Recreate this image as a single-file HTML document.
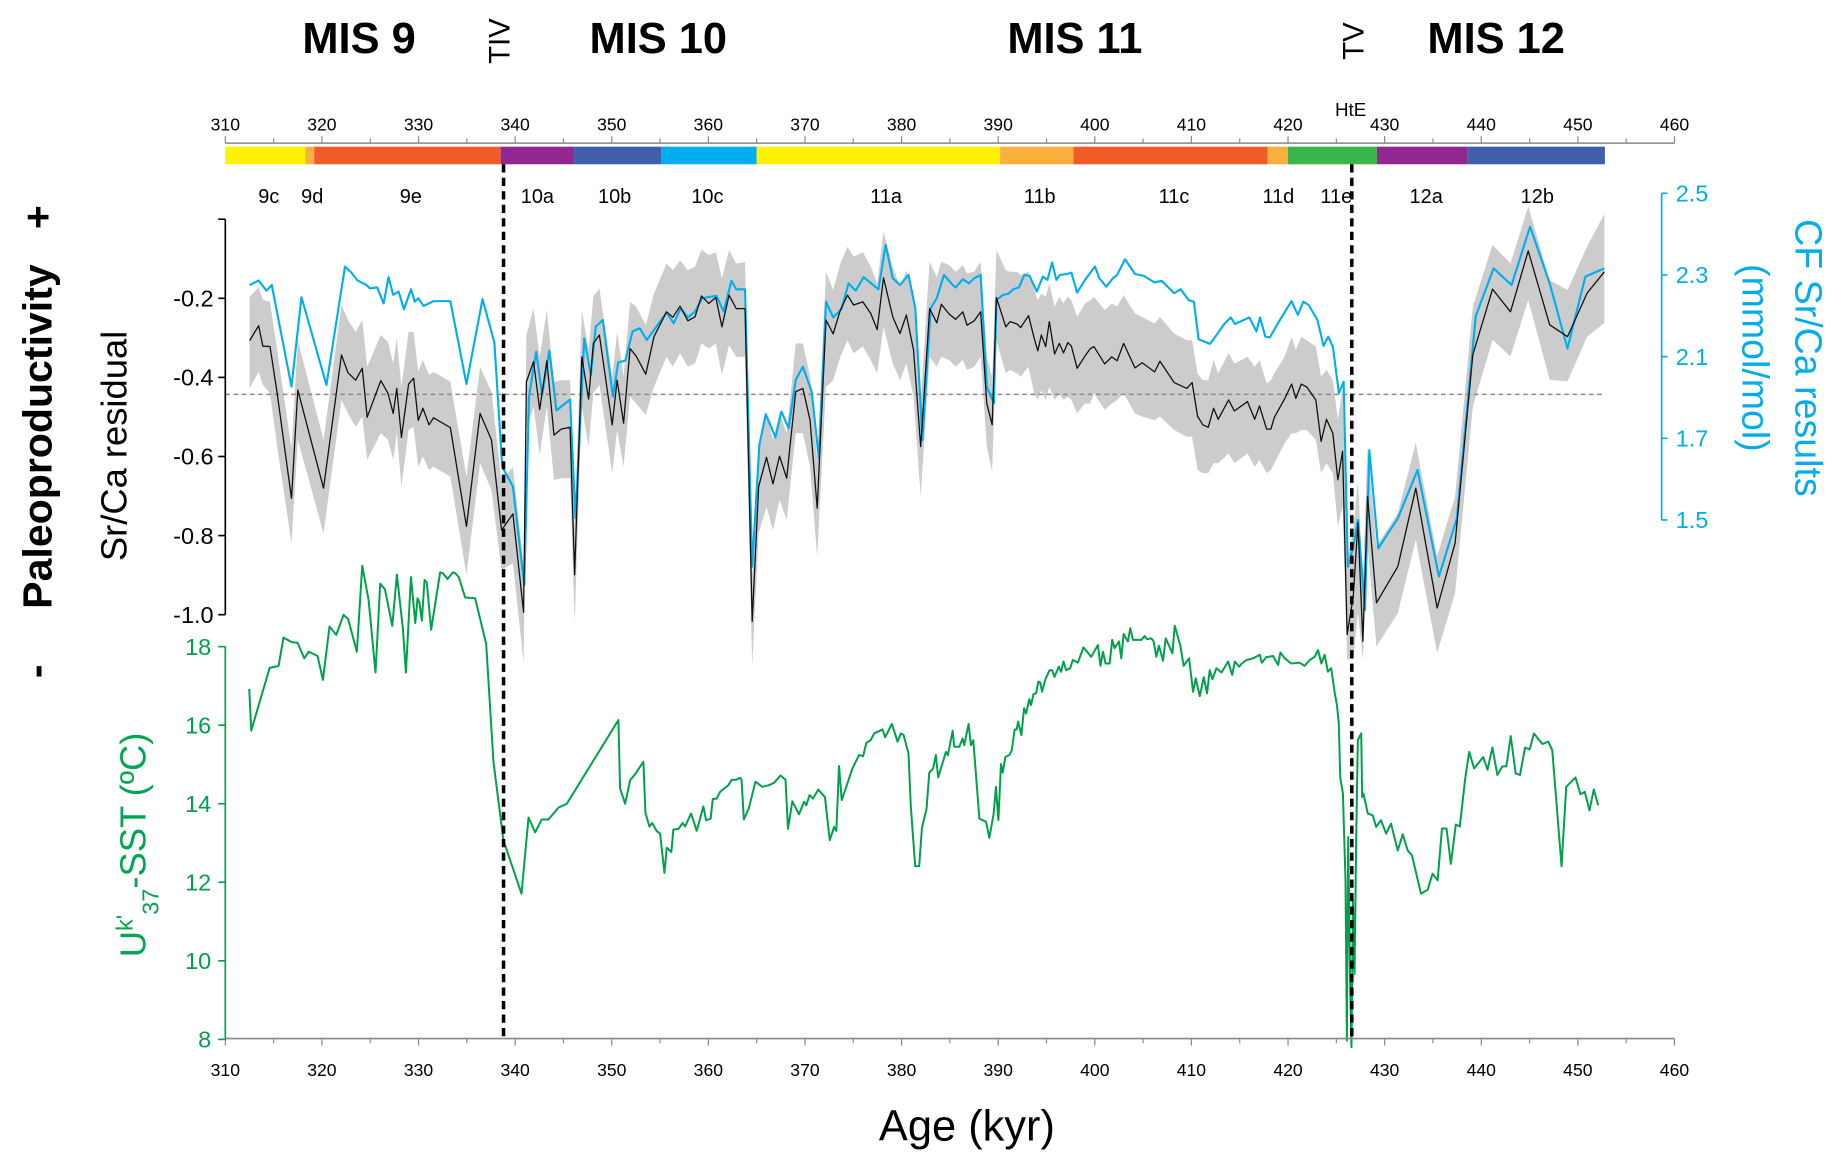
<!DOCTYPE html>
<html><head><meta charset="utf-8">
<style>
html,body{margin:0;padding:0;background:#fff;}
svg{display:block;font-family:"Liberation Sans",Arial,sans-serif;}
</style></head>
<body>
<svg id="chart" width="1840" height="1166" viewBox="0 0 1568 993.6" preserveAspectRatio="none" xmlns="http://www.w3.org/2000/svg">
<g id="layer-bg"></g>
<g id="layer-band"></g>
<g id="layer-lines"></g>
<g id="layer-axes"></g>
<g id="layer-text">
  <text x="306" y="45" font-size="37" font-weight="bold" text-anchor="middle">MIS 9</text>
  <text x="561" y="45" font-size="37" font-weight="bold" text-anchor="middle">MIS 10</text>
  <text x="916" y="45" font-size="37" font-weight="bold" text-anchor="middle">MIS 11</text>
  <text x="1275" y="45" font-size="37" font-weight="bold" text-anchor="middle">MIS 12</text>
  <text transform="translate(434,35) rotate(-90)" font-size="25" text-anchor="middle">TIV</text>
  <text transform="translate(1162,35) rotate(-90)" font-size="25" text-anchor="middle">TV</text>
  <text x="1151" y="99" font-size="16" text-anchor="middle">HtE</text>
  <text transform="translate(108,380) rotate(-90)" font-size="31" text-anchor="middle">Sr/Ca residual</text>
  <text transform="translate(124,720) rotate(-90)" font-size="31" fill="#00A651" text-anchor="middle">U<tspan font-size="20" dy="-11">k'</tspan><tspan font-size="20" dy="22">37</tspan><tspan dy="-11">-SST (ºC)</tspan></text>
  <text transform="translate(44,372) rotate(-90)" font-size="35" font-weight="bold" text-anchor="middle">Paleoproductivity</text>
  <text transform="translate(44,185) rotate(-90)" font-size="35" font-weight="bold" text-anchor="middle">+</text>
  <text transform="translate(42,572) rotate(-90)" font-size="35" font-weight="bold" text-anchor="middle">-</text>
  <text transform="translate(1530,305) rotate(90)" font-size="32" fill="#00AEEF" text-anchor="middle">CF Sr/Ca results</text>
  <text transform="translate(1485,305) rotate(90)" font-size="32" fill="#00AEEF" text-anchor="middle">(mmol/mol)</text>
  <text x="824" y="972" font-size="37" text-anchor="middle">Age (kyr)</text>
</g>
</svg>
<script>
// ---------- data ----------
const srAges = [312.52,313.45,313.89,314.63,315.37,316.85,317.51,320.17,322.02,322.69,323.50,324.17,324.69,326.09,326.83,327.38,327.75,328.23,328.97,329.49,329.97,330.45,331.08,331.56,333.30,334.96,336.37,337.55,338.59,339.77,340.88,341.17,341.91,342.54,343.28,344.02,344.76,345.68,346.16,346.90,347.61,348.09,348.72,350.05,350.56,351.23,351.89,352.52,353.52,354.37,355.67,356.33,357.07,357.88,358.62,359.29,360.03,360.77,361.40,362.14,362.88,363.80,364.54,365.21,366.02,366.69,367.37,368.11,369.04,369.78,370.52,371.26,372.18,372.92,373.66,374.40,375.03,375.99,376.80,377.47,378.13,379.09,379.83,380.50,381.24,381.98,382.90,383.64,384.12,384.93,385.60,386.34,386.78,387.52,388.19,388.82,389.37,389.81,390.78,391.22,391.96,392.33,393.14,393.73,394.10,394.47,394.92,395.29,395.84,396.32,396.76,397.21,397.58,398.17,398.98,399.54,399.91,401.02,401.75,402.31,402.98,404.16,404.90,406.19,406.75,408.22,409.52,410.07,410.63,411.18,411.74,412.29,412.77,413.85,414.44,415.81,416.55,417.04,417.78,418.22,418.59,419.63,420.37,420.81,421.37,421.93,422.87,423.42,423.98,424.64,425.16,425.64,426.12,426.75,427.23,427.75,428.23,429.15,431.37,433.22,435.44,437.29,439.13,441.17,443.02,444.86,447.08,448.93,450.96,452.74];
const srResidual = [-0.307,-0.269,-0.321,-0.322,-0.440,-0.706,-0.432,-0.680,-0.343,-0.388,-0.407,-0.377,-0.501,-0.408,-0.440,-0.491,-0.428,-0.552,-0.417,-0.402,-0.509,-0.478,-0.520,-0.502,-0.527,-0.777,-0.491,-0.558,-0.786,-0.745,-0.994,-0.411,-0.360,-0.481,-0.358,-0.546,-0.531,-0.526,-0.899,-0.348,-0.455,-0.314,-0.293,-0.520,-0.407,-0.516,-0.327,-0.346,-0.392,-0.297,-0.234,-0.248,-0.220,-0.257,-0.247,-0.194,-0.213,-0.198,-0.272,-0.192,-0.226,-0.226,-1.017,-0.676,-0.602,-0.669,-0.599,-0.655,-0.436,-0.428,-0.508,-0.731,-0.255,-0.290,-0.230,-0.192,-0.217,-0.209,-0.238,-0.279,-0.148,-0.247,-0.289,-0.242,-0.331,-0.575,-0.226,-0.262,-0.215,-0.240,-0.253,-0.234,-0.268,-0.257,-0.234,-0.466,-0.520,-0.198,-0.272,-0.259,-0.265,-0.274,-0.244,-0.301,-0.333,-0.293,-0.322,-0.259,-0.341,-0.314,-0.338,-0.312,-0.321,-0.377,-0.346,-0.327,-0.322,-0.366,-0.348,-0.358,-0.314,-0.376,-0.363,-0.386,-0.359,-0.413,-0.428,-0.413,-0.498,-0.520,-0.526,-0.478,-0.506,-0.457,-0.485,-0.461,-0.506,-0.472,-0.531,-0.531,-0.501,-0.455,-0.417,-0.453,-0.417,-0.424,-0.457,-0.562,-0.506,-0.541,-0.659,-0.587,-1.050,-0.954,-0.768,-1.067,-0.701,-0.970,-0.878,-0.680,-0.983,-0.819,-0.343,-0.177,-0.234,-0.080,-0.267,-0.297,-0.187,-0.133];
const srBandHi = [-0.196,-0.172,-0.204,-0.209,-0.331,-0.579,-0.306,-0.558,-0.217,-0.255,-0.285,-0.255,-0.373,-0.293,-0.310,-0.365,-0.301,-0.424,-0.285,-0.285,-0.386,-0.356,-0.394,-0.386,-0.411,-0.651,-0.373,-0.436,-0.663,-0.626,-0.878,-0.293,-0.226,-0.348,-0.230,-0.411,-0.407,-0.407,-0.781,-0.230,-0.331,-0.196,-0.175,-0.398,-0.285,-0.398,-0.209,-0.221,-0.268,-0.188,-0.112,-0.129,-0.104,-0.129,-0.120,-0.077,-0.091,-0.083,-0.150,-0.078,-0.112,-0.108,-0.903,-0.567,-0.491,-0.558,-0.491,-0.541,-0.314,-0.314,-0.398,-0.609,-0.133,-0.179,-0.112,-0.070,-0.095,-0.083,-0.120,-0.163,-0.032,-0.120,-0.171,-0.129,-0.205,-0.457,-0.108,-0.146,-0.108,-0.116,-0.133,-0.116,-0.137,-0.133,-0.108,-0.348,-0.398,-0.078,-0.129,-0.133,-0.133,-0.141,-0.133,-0.179,-0.205,-0.188,-0.196,-0.163,-0.221,-0.196,-0.213,-0.196,-0.205,-0.247,-0.213,-0.205,-0.196,-0.230,-0.213,-0.221,-0.192,-0.238,-0.247,-0.264,-0.247,-0.289,-0.306,-0.306,-0.390,-0.407,-0.407,-0.356,-0.390,-0.339,-0.365,-0.348,-0.373,-0.356,-0.415,-0.407,-0.390,-0.348,-0.297,-0.331,-0.297,-0.306,-0.322,-0.398,-0.381,-0.406,-0.507,-0.431,-0.861,-0.785,-0.659,-0.911,-0.575,-0.827,-0.743,-0.566,-0.852,-0.701,-0.221,-0.065,-0.112,0.032,-0.154,-0.179,-0.069,0.013];
const srBandLo = [-0.428,-0.386,-0.419,-0.440,-0.575,-0.819,-0.558,-0.794,-0.457,-0.491,-0.525,-0.499,-0.609,-0.541,-0.558,-0.609,-0.541,-0.676,-0.533,-0.525,-0.626,-0.600,-0.634,-0.626,-0.651,-0.899,-0.617,-0.685,-0.887,-0.870,-1.122,-0.533,-0.474,-0.596,-0.474,-0.659,-0.655,-0.655,-1.021,-0.474,-0.575,-0.440,-0.419,-0.642,-0.533,-0.626,-0.449,-0.466,-0.495,-0.424,-0.348,-0.373,-0.339,-0.373,-0.365,-0.314,-0.327,-0.314,-0.394,-0.318,-0.348,-0.348,-1.131,-0.794,-0.727,-0.786,-0.710,-0.760,-0.541,-0.541,-0.626,-0.853,-0.424,-0.407,-0.348,-0.306,-0.339,-0.322,-0.356,-0.390,-0.272,-0.365,-0.407,-0.365,-0.449,-0.701,-0.348,-0.373,-0.348,-0.356,-0.373,-0.356,-0.381,-0.373,-0.348,-0.575,-0.638,-0.306,-0.390,-0.381,-0.390,-0.398,-0.373,-0.440,-0.457,-0.432,-0.457,-0.424,-0.457,-0.440,-0.457,-0.449,-0.457,-0.491,-0.466,-0.466,-0.440,-0.482,-0.466,-0.457,-0.440,-0.491,-0.499,-0.508,-0.499,-0.533,-0.550,-0.550,-0.634,-0.642,-0.642,-0.617,-0.617,-0.592,-0.617,-0.592,-0.626,-0.609,-0.642,-0.634,-0.617,-0.567,-0.541,-0.541,-0.533,-0.533,-0.558,-0.642,-0.617,-0.642,-0.777,-0.726,-1.113,-1.113,-0.996,-1.113,-0.827,-1.080,-0.996,-0.810,-1.097,-0.945,-0.474,-0.305,-0.347,-0.204,-0.406,-0.410,-0.297,-0.263];

const cfAges = [312.52,313.45,314.26,314.81,316.85,317.88,320.47,322.39,323.06,323.69,324.61,324.98,325.72,326.39,326.90,327.38,327.94,328.49,329.23,329.60,329.97,330.53,331.56,333.30,334.96,336.63,337.85,338.66,339.77,340.95,341.43,342.17,342.80,343.54,344.28,345.68,346.24,347.16,347.83,348.35,349.08,350.12,350.67,351.41,352.15,352.89,353.63,355.67,356.41,357.14,357.88,358.62,359.36,360.84,361.58,362.39,362.88,363.80,364.54,365.28,365.94,366.94,367.56,368.30,369.04,369.78,370.70,371.44,372.18,372.92,373.77,374.51,375.25,376.06,376.87,377.61,378.35,379.09,379.83,380.72,381.42,382.16,383.01,383.64,384.38,385.30,385.60,386.34,386.97,387.52,388.19,388.82,389.56,389.81,390.48,391.03,391.59,392.14,392.70,393.25,393.99,394.62,395.10,395.58,396.02,396.39,397.13,397.58,398.17,398.98,400.02,400.46,401.20,401.87,402.31,403.12,404.16,405.08,406.19,406.93,408.22,408.89,409.70,410.26,410.74,411.92,412.48,413.40,414.07,414.51,415.99,416.73,417.10,417.65,418.13,418.95,420.35,421.02,421.57,422.13,423.05,423.68,424.16,424.64,425.27,425.75,426.19,426.75,427.23,427.97,428.41,429.34,431.37,433.40,435.62,437.47,439.43,441.28,443.13,445.05,447.08,448.93,450.78,452.74];
const cfSrCa = [2.219,2.233,2.202,2.219,1.908,2.182,1.913,2.276,2.257,2.233,2.219,2.209,2.212,2.163,2.243,2.189,2.199,2.145,2.206,2.168,2.179,2.155,2.170,2.170,1.916,2.176,2.043,1.663,1.602,1.301,1.878,2.015,1.883,2.018,1.835,1.869,1.505,2.056,1.944,2.092,2.112,1.878,1.982,1.988,2.077,2.087,2.051,2.135,2.102,2.148,2.120,2.138,2.179,2.186,2.138,2.232,2.206,2.206,1.357,1.730,1.824,1.753,1.832,1.781,1.929,1.969,1.893,1.689,2.168,2.120,2.145,2.224,2.202,2.243,2.224,2.206,2.342,2.240,2.219,2.250,2.148,1.745,2.148,2.179,2.250,2.219,2.212,2.237,2.224,2.240,2.250,1.908,1.857,2.173,2.189,2.192,2.206,2.212,2.250,2.247,2.199,2.245,2.235,2.288,2.235,2.250,2.253,2.257,2.196,2.235,2.276,2.240,2.214,2.240,2.250,2.298,2.253,2.247,2.227,2.232,2.194,2.206,2.173,2.168,2.053,2.039,2.061,2.100,2.120,2.100,2.120,2.077,2.120,2.061,2.059,2.102,2.170,2.128,2.168,2.158,2.112,2.033,2.061,2.031,1.888,1.923,1.357,1.418,1.500,1.224,1.714,1.413,1.505,1.653,1.327,1.505,2.124,2.270,2.219,2.398,2.224,2.025,2.245,2.270];

const sstAges = [312.48,312.69,314.59,315.52,316.03,316.90,317.48,318.17,318.62,319.55,320.10,320.79,321.48,322.24,322.72,323.62,324.17,324.83,325.55,326.03,326.52,327.28,327.76,328.38,328.69,329.21,329.66,329.90,330.10,330.34,330.62,330.86,331.31,332.24,332.52,333.00,333.55,333.79,334.17,334.83,335.86,337.00,337.76,338.79,340.66,341.38,342.07,342.76,343.45,344.48,345.34,350.69,350.86,351.38,351.90,352.41,353.28,353.48,353.90,354.17,354.66,355.00,355.45,355.69,356.17,356.38,356.90,357.34,357.59,358.21,358.79,359.48,359.76,360.24,360.45,360.86,361.21,362.07,362.41,362.86,363.28,363.43,363.67,364.19,364.88,365.58,366.27,366.79,367.48,367.99,368.24,368.69,369.38,369.90,370.14,370.48,370.83,371.38,372.07,372.56,373.01,373.25,373.53,373.80,374.91,375.60,376.02,376.36,376.81,377.16,378.02,378.30,378.99,379.58,379.92,380.20,380.72,380.96,381.41,381.82,382.10,382.58,382.86,383.27,383.55,383.79,384.59,384.80,385.28,385.45,385.97,386.32,386.49,386.94,387.18,387.42,388.05,388.74,389.08,389.53,389.77,390.02,390.29,390.47,390.74,391.16,391.40,391.71,391.92,392.06,392.40,392.68,392.89,393.23,393.40,393.65,393.92,394.16,394.37,394.54,394.89,395.31,395.58,395.82,396.27,396.51,396.76,397.03,397.45,397.72,398.24,398.83,399.63,400.32,400.59,400.84,401.11,401.53,401.80,402.05,402.50,402.74,402.98,403.43,403.67,403.95,404.81,405.16,405.40,405.85,406.09,406.37,406.64,407.06,407.34,408.03,408.27,408.86,409.20,409.76,410.17,410.45,410.86,411.28,411.62,411.90,412.18,412.59,413.11,413.80,414.21,414.49,414.94,415.18,415.70,416.39,417.08,417.28,417.76,418.45,418.97,419.21,419.66,420.34,421.20,421.72,422.24,422.75,423.10,423.44,423.78,424.13,424.47,424.82,425.06,425.26,425.40,425.68,425.95,426.09,426.23,426.43,426.57,426.71,426.88,427.05,427.22,427.57,427.67,427.81,428.26,428.77,429.12,429.63,430.15,430.66,431.35,431.87,432.38,432.83,433.76,434.45,434.96,435.48,435.93,436.41,436.86,437.37,437.78,438.34,438.75,439.26,440.19,440.64,441.16,441.67,442.19,442.60,443.05,443.56,444.01,444.53,445.01,445.46,446.32,446.94,447.35,448.31,448.79,449.76,450.27,450.72,451.20,451.65,452.10];
const sstValues = [16.92,15.86,17.46,17.51,18.23,18.11,18.10,17.70,17.87,17.76,17.15,18.51,18.30,18.81,18.70,17.87,20.06,19.19,17.34,19.60,19.46,18.53,19.83,18.47,17.34,19.77,18.60,19.23,19.11,18.66,19.70,19.63,18.43,19.89,19.87,19.72,19.89,19.87,19.77,19.25,19.23,18.07,15.07,13.07,11.71,13.65,13.27,13.60,13.60,13.90,14.00,16.13,14.39,14.00,14.60,14.75,15.07,13.77,13.42,13.51,13.30,13.24,12.24,12.88,12.77,13.34,13.36,13.51,13.42,13.75,13.31,13.93,13.58,13.62,14.12,14.13,14.30,14.47,14.61,14.61,14.66,14.61,13.60,13.88,14.56,14.43,14.47,14.53,14.72,14.61,13.36,14.06,13.73,14.05,13.96,14.22,14.13,14.36,14.17,13.07,13.41,13.31,14.96,14.09,14.90,15.24,15.21,15.55,15.62,15.79,15.89,15.69,16.03,15.58,15.79,15.75,15.28,13.92,12.41,12.41,13.37,13.88,14.79,14.90,15.24,14.67,15.32,15.24,15.86,15.45,15.45,15.66,15.49,16.03,15.49,15.62,13.62,13.54,13.13,13.75,14.43,13.58,15.01,14.79,15.19,15.24,15.36,15.89,15.89,16.09,15.75,16.43,16.30,16.66,16.51,16.79,16.81,17.11,17.08,16.85,17.17,17.40,17.40,17.23,17.49,17.36,17.62,17.40,17.45,17.66,17.59,17.98,17.74,18.04,17.51,17.87,17.57,17.57,18.17,17.96,18.13,17.70,18.32,18.13,18.47,18.17,18.17,18.27,18.19,18.21,18.13,17.74,18.02,17.64,18.21,17.83,18.53,18.02,17.51,17.70,16.85,17.19,16.74,17.22,16.81,17.40,17.17,17.45,17.34,17.62,17.28,17.62,17.49,17.56,17.66,17.70,17.79,17.59,17.73,17.76,17.53,17.85,17.70,17.57,17.59,17.51,17.66,17.74,17.91,17.57,17.79,17.36,17.45,16.85,16.51,16.04,14.68,14.26,12.05,7.97,13.15,9.33,7.80,11.54,9.67,13.07,15.62,15.79,14.17,14.26,13.75,13.70,13.41,13.58,13.24,13.49,12.81,13.22,12.81,12.68,11.71,11.81,12.22,12.05,13.37,13.37,12.47,13.47,13.42,14.64,15.32,14.90,15.19,14.87,15.43,14.73,14.95,14.95,15.72,14.77,14.73,15.43,15.38,15.79,15.52,15.58,15.36,12.41,14.43,14.67,14.24,14.30,13.83,14.36,13.96];

const xTicks = [310,320,330,340,350,360,370,380,390,400,410,420,430,440,450,460];
const srTicks = [-0.2,-0.4,-0.6,-0.8,-1.0];
const sstTicks = [18,16,14,12,10,8];
const cfTickLabels = ["2.5","2.3","2.1","1.7","1.5"];
const stageStarts = [310,318.3,319.2,338.5,346.1,355.1,365.0,390.2,397.8,417.9,420.0,429.2,438.6];
const stageEnds = [318.3,319.2,338.5,346.1,355.1,365.0,390.2,397.8,417.9,420.0,429.2,438.6,452.8];
const stageColors = ["#FFF200","#FBAF3F","#F15A29","#92278F","#3F5FAD","#00AEEF","#FFF200","#FBAF3F","#F15A29","#FBAF3F","#39B54A","#92278F","#3F5FAD"];
const substageLabels = ["9c","9d","9e","10a","10b","10c","11a","11b","11c","11d","11e","12a","12b"];
const substageAges = [314.5,319.0,329.2,342.3,350.3,359.9,378.4,394.3,408.2,419.0,425.0,434.3,445.8];
const terminationAges = [338.8,426.6];
const srMeanLine = -0.443;

// ---------- scales (display coordinates) ----------
const NS = "http://www.w3.org/2000/svg";
function xS(a){ return 192 + (a-310)*8.233; }
function ySr(v){ return 254.2 - (v+0.2)*337; }
function yCf(b){ return 164.7 + (2.5-b)*278.4; }
function yT(t){ return 551 + (18-t)*33.47; }
function mk(tag, attrs, parent){
  const e = document.createElementNS(NS, tag);
  for (const k in attrs) e.setAttribute(k, attrs[k]);
  parent.appendChild(e);
  return e;
}
const bg = document.getElementById('layer-bg');
const bandL = document.getElementById('layer-band');
const lines = document.getElementById('layer-lines');
const axes = document.getElementById('layer-axes');

// color bar
for (let i=0;i<stageStarts.length;i++){
  const r = mk('rect',{x:xS(stageStarts[i]),y:125,width:xS(stageEnds[i])-xS(stageStarts[i]),height:15,fill:stageColors[i]},bg);
  
  
}
for (let i=0;i<substageLabels.length;i++){
  const t = mk('text',{x:xS(substageAges[i]),y:173,'font-size':17,'text-anchor':'middle'},bg);
  t.textContent = substageLabels[i];
  
  
}

// band
let pts = [];
for (let i=0;i<srAges.length;i++) pts.push(xS(srAges[i]).toFixed(1)+','+ySr(srBandHi[i]).toFixed(1));
for (let i=srAges.length-1;i>=0;i--) pts.push(xS(srAges[i]).toFixed(1)+','+ySr(srBandLo[i]).toFixed(1));
const band = mk('polygon',{points:pts.join(' '),fill:'#CCCCCC',stroke:'none'},bandL);



// mean dotted line
const ml = mk('line',{x1:xS(310),x2:xS(452.8),y1:ySr(srMeanLine),y2:ySr(srMeanLine),stroke:'#8a8a8a','stroke-width':1.3,'stroke-dasharray':'4 3'},bandL);



function poly(xs, ys, fx, fy, color, w, name){
  const p = xs.map((a,i)=>fx(a).toFixed(1)+','+fy(ys[i]).toFixed(1)).join(' ');
  const e = mk('polyline',{points:p,fill:'none',stroke:color,'stroke-width':w,'stroke-linejoin':'round'},lines);
  
  
}
poly(cfAges, cfSrCa, xS, yCf, '#00AEEF', 1.8, 'cf-srca-line');
poly(srAges, srResidual, xS, ySr, '#111111', 1.1, 'srca-residual-line');
poly(sstAges, sstValues, xS, yT, '#00A14B', 1.7, 'sst-line');

// termination dashed lines
for (let i=0;i<terminationAges.length;i++){
  const d = mk('line',{x1:xS(terminationAges[i]),x2:xS(terminationAges[i]),y1:140,y2:885,stroke:'#000','stroke-width':3,'stroke-dasharray':'7 4.5'},lines);
  
  
}

// axes
function ln(x1,y1,x2,y2,c,w,name){
  const e = mk('line',{x1:x1,y1:y1,x2:x2,y2:y2,stroke:c,'stroke-width':w},axes);
  
  
}
ln(192,122,1427,122,'#888',1.3,'top-x-axis');
ln(192,885,1427,885,'#888',1.3,'bottom-x-axis');
for (let a=310;a<=460;a+=5){
  ln(xS(a),122,xS(a),a%10===0?116:118,'#888',1,'top-x-tick');
  ln(xS(a),885,xS(a),a%10===0?891:889,'#888',1,'bottom-x-tick');
}
for (let i=0;i<xTicks.length;i++){
  const t1 = mk('text',{x:xS(xTicks[i]),y:111,'font-size':15,'text-anchor':'middle'},axes);
  t1.textContent = xTicks[i];
  
  
  const t2 = mk('text',{x:xS(xTicks[i]),y:917,'font-size':15,'text-anchor':'middle'},axes);
  t2.textContent = xTicks[i];
  
  
}
// Sr/Ca residual axis
ln(192,ySr(0),192,ySr(-1.0),'#000',1.4,'srca-y-axis');
ln(186,ySr(0),192,ySr(0),'#000',1.4,'srca-y-tick');
for (let i=0;i<srTicks.length;i++){
  const y = ySr(srTicks[i]);
  ln(186,y,192,y,'#000',1.4,'srca-y-tick');
  const t = mk('text',{x:182,y:y+7,'font-size':20,'text-anchor':'end'},axes);
  t.textContent = srTicks[i].toFixed(1);
  
  
}
// SST axis
ln(192,yT(18),192,yT(8),'#00A14B',1.4,'sst-y-axis');
for (let i=0;i<sstTicks.length;i++){
  const y = yT(sstTicks[i]);
  ln(186,y,192,y,'#00A14B',1.4,'sst-y-tick');
  const t = mk('text',{x:180,y:y+7,'font-size':20,'text-anchor':'end',fill:'#00A14B'},axes);
  t.textContent = sstTicks[i];
  
  
}
// CF Sr/Ca axis
ln(1416,yCf(2.5),1416,yCf(1.5),'#00AEEF',1.4,'cf-srca-y-axis');
for (let i=0;i<cfTickLabels.length;i++){
  const y = yCf(2.5 - i*0.25);
  ln(1416,y,1421,y,'#00AEEF',1.4,'cf-srca-y-tick');
  const t = mk('text',{x:1428,y:y+7,'font-size':20,fill:'#00AEEF'},axes);
  t.textContent = cfTickLabels[i];
  
  
}
</script>
</body></html>
